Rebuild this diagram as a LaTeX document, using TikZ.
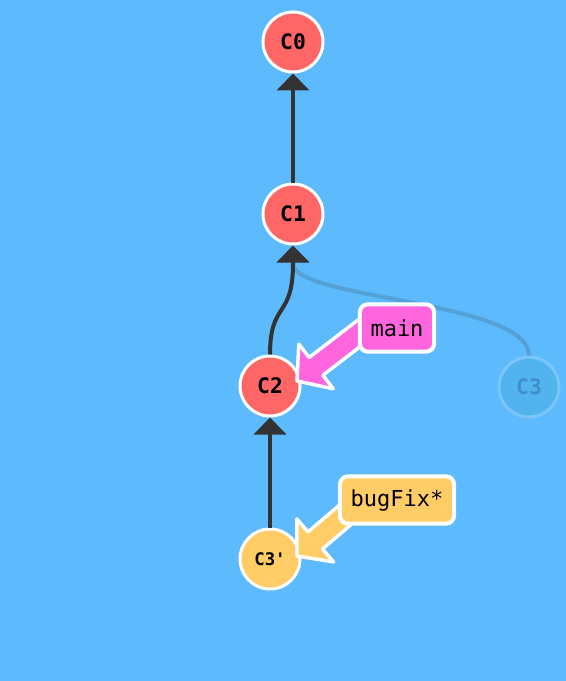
\documentclass[tikz,border=0pt]{standalone}
\usepackage{fontspec}
\setmonofont{DejaVu Sans Mono}
\usetikzlibrary{arrows.meta,calc}

\definecolor{bgBlue}{HTML}{5CBAFD}
\definecolor{commitRed}{HTML}{FF6666}
\definecolor{commitYellow}{HTML}{FFCC66}
\definecolor{branchPink}{HTML}{FF66DD}
\definecolor{edgeGray}{HTML}{333333}
\definecolor{fadedFill}{HTML}{52B4EF}
\definecolor{fadedRing}{HTML}{7AC6FB}
\definecolor{fadedText}{HTML}{3F8FC8}

\tikzset{every picture/.style={line width=0.75pt}}
\tikzset{
  commit/.style={circle, draw=white, line width=2.25pt, minimum size=45pt, inner sep=0pt,
    font=\ttfamily\bfseries\fontsize{16}{18}\selectfont},
  commitEdge/.style={draw=edgeGray, line width=3pt, -{Triangle[width=24pt,length=12.75pt]}},
  fadedEdge/.style={commitEdge, draw opacity=0.18},
  branchBox/.style={draw=white, line width=3pt, rounded corners=6pt, minimum height=35.5pt,
    inner xsep=8pt, font=\ttfamily\fontsize{16.5}{20}\selectfont},
  branchArrow/.style={draw=white, line width=2.6pt, line join=round}
}

\begin{document}
\begin{tikzpicture}[x=0.75pt,y=0.75pt,yscale=-1,xscale=1]
%Background
\fill [bgBlue] (0,0) rectangle (566,681);
\useasboundingbox (0,0) rectangle (566,681);

%Commits
\node [commit, fill=commitRed] (C0) at (293,42) {C0};
\node [commit, fill=commitRed] (C1) at (293,214) {C1};
\node [commit, fill=commitRed] (C2) at (270,386) {C2};
\node [commit, fill=commitYellow, font=\ttfamily\bfseries\fontsize{13}{15}\selectfont] (C3p) at (270,559) {C3'};
\node [commit, fill=fadedFill, draw=fadedRing, text=fadedText] (C3) at (529,387) {C3};

%Edges
\draw [fadedEdge] (C3.north) .. controls +(0,-55) and +(0,36) .. ($(C1.south)+(0,18)$) -- (C1.south);
\draw [commitEdge] (C1) -- (C0);
\draw [commitEdge] (C2.north) .. controls +(0,-54) and +(0,56) .. ($(C1.south)+(0,18)$) -- (C1.south);
\draw [commitEdge] (C3p) -- (C2);

%Branch arrow: main
\coordinate (mainTip) at (297,381);
\coordinate (mainTail) at (375,321);
\coordinate (mainHead) at ($(mainTip)!18pt!(mainTail)$);
\draw [branchArrow, fill=branchPink] (mainTip) -- ($(mainHead)!21.2pt!90:(mainTail)$) -- ($(mainHead)!8.4pt!90:(mainTail)$) -- ($(mainTail)!8.4pt!-90:(mainTip)$) -- ($(mainTail)!8.4pt!90:(mainTip)$) -- ($(mainHead)!8.4pt!-90:(mainTail)$) -- ($(mainHead)!21.2pt!-90:(mainTail)$) -- cycle;

%Branch arrow: bugFix
\coordinate (bugFixTip) at (297,556);
\coordinate (bugFixTail) at (372,492);
\coordinate (bugFixHead) at ($(bugFixTip)!18pt!(bugFixTail)$);
\draw [branchArrow, fill=commitYellow] (bugFixTip) -- ($(bugFixHead)!21.2pt!90:(bugFixTail)$) -- ($(bugFixHead)!8.4pt!90:(bugFixTail)$) -- ($(bugFixTail)!8.4pt!-90:(bugFixTip)$) -- ($(bugFixTail)!8.4pt!90:(bugFixTip)$) -- ($(bugFixHead)!8.4pt!-90:(bugFixTail)$) -- ($(bugFixHead)!21.2pt!-90:(bugFixTail)$) -- cycle;

%Branch labels
\node [branchBox, fill=branchPink] (main) at (397,328) {main};
\node [branchBox, fill=commitYellow] (bugFix) at (397,500) {bugFix*};

\end{tikzpicture}
\end{document}
